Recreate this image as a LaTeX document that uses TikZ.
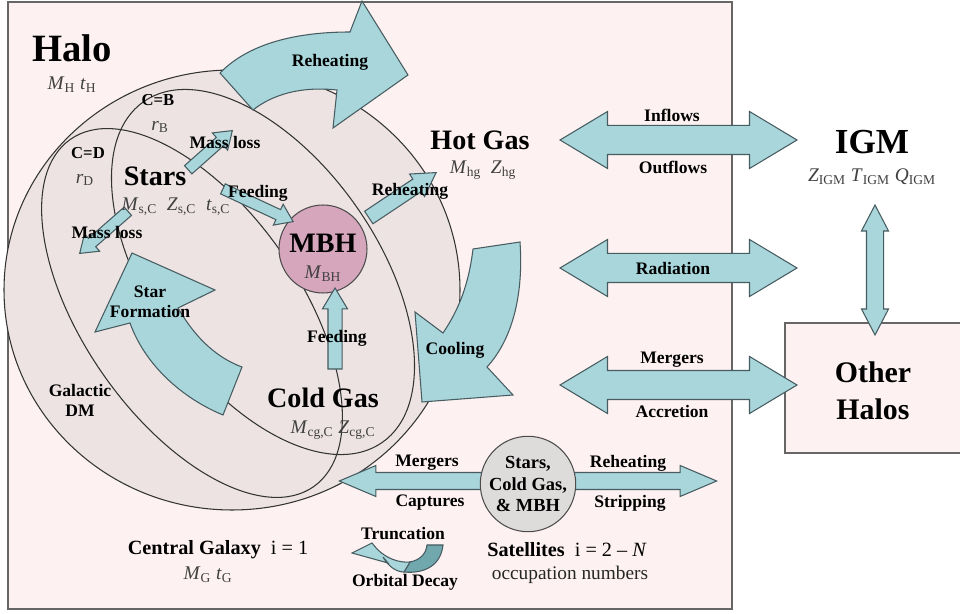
\documentclass[tikz,border=0pt]{standalone}
\usepackage{fontspec}
\setmainfont{Liberation Serif}
\usetikzlibrary{shapes.arrows}

\definecolor{halopink}{RGB}{253,241,241}
\definecolor{galgray}{RGB}{237,227,227}
\definecolor{flowblue}{RGB}{168,214,219}
\definecolor{flowdark}{RGB}{112,168,174}
\definecolor{flowline}{RGB}{70,92,96}
\definecolor{bhpink}{RGB}{214,166,188}
\definecolor{satgray}{RGB}{222,219,219}

\newcommand{\qsub}[2]{\textit{#1}\textsubscript{#2}}
\newcommand{\fsz}[2]{\fontsize{#1}{#2}\selectfont}

\tikzset{
  flow/.style={fill=flowblue, draw=flowline, line width=0.6pt, line join=miter},
  ring/.style={draw=black!80, line width=0.6pt},
  lbl/.style={font=\bfseries\fsz{10}{11.3}, inner sep=0pt},
  comp/.style={font=\bfseries\fsz{16}{18}, inner sep=0pt},
  qty/.style={font=\fsz{11}{12}, text=black!75, inner sep=0pt},
  pipe/.style={double arrow, flow, inner xsep=0pt, inner ysep=0.28cm, minimum height=4.74cm,
    minimum width=1.12cm, double arrow head extend=0.28cm, double arrow tip angle=62},
  dart/.style={single arrow, flow, anchor=tip, inner xsep=0pt, inner ysep=0.1cm,
    minimum width=0.44cm, single arrow head extend=0.12cm, single arrow tip angle=70}
}

\begin{document}
\begin{tikzpicture}[x=0.02cm, y=-0.02cm]
\useasboundingbox (0,0) rectangle (960,614);
\clip (0,0) rectangle (960,614);
\fill[white] (0,0) rectangle (960,614);

% halo box and the other halos
\draw[fill=halopink, draw=black!60, line width=0.6pt] (8,2) rectangle (732,609);
\draw[fill=halopink, draw=black!60, line width=0.6pt] (785,323) rectangle (975,453);

% galaxy shells
\draw[ring, fill=galgray] (232,290) ellipse [x radius=228, y radius=220];
\begin{scope}[rotate around={-55:(192,313)}]
  \draw[ring] (192,313) ellipse [x radius=212, y radius=108];
\end{scope}
\begin{scope}[rotate around={-55:(263,272)}]
  \draw[ring] (263,272) ellipse [x radius=208, y radius=114];
\end{scope}

\node[circle, draw=black!70, fill=bhpink, line width=0.6pt, minimum size=1.76cm,
  inner sep=0pt] (mbh) at (323,249) {};

% curved flows
\draw[flow] (220,73) .. controls (250,42) and (300,32) .. (350,32)
  -- (362,1) -- (408,75) -- (333,128) -- (337,90)
  .. controls (300,86) and (272,95) .. (253,110) -- cycle;
\draw[flow] (242,367) -- (223,415) .. controls (182,398) and (145,365) .. (130,323)
  -- (95,332) -- (132,253) -- (215,290) -- (178,308)
  .. controls (192,332) and (212,356) .. (242,367) -- cycle;
\draw[flow] (473,249) -- (520,242) .. controls (524,300) and (510,342) .. (487,367)
  -- (513,395) -- (422,402) -- (415,312) -- (443,333)
  .. controls (460,308) and (469,282) .. (473,249) -- cycle;
\draw[flow, fill=flowdark] (427,545) -- (443,545) .. controls (441,565) and (425,574) .. (404,572)
  -- (410,562) .. controls (420,560) and (426,554) .. (427,545) -- cycle;
\draw[flow] (352,553) -- (372,543) -- (377,549)
  .. controls (386,558) and (398,563) .. (410,562) -- (404,572)
  .. controls (396,572) and (388,566) .. (383,557) -- (388,563) -- cycle;

% straight flows inside the galaxy
\node[dart, minimum height=1.18cm, rotate=41.6] (loss-up) at (233,130) {};
\node[dart, minimum height=1.28cm, rotate=221.2] (loss-down) at (79,254) {};
\node[dart, minimum height=1.55cm, rotate=-25] (feed-stars) at (294,222) {};
\node[dart, minimum height=1.62cm, inner ysep=0.14cm, minimum width=0.52cm,
  single arrow tip angle=61, rotate=33.7] (reheat-bh) at (437,172) {};
\node[dart, minimum height=1.62cm, inner ysep=0.13cm, minimum width=0.48cm,
  single arrow head extend=0.11cm, single arrow tip angle=62, rotate=90] (feed-cold) at (335,287) {};

% exchanges with the outside
\node[pipe] (inout) at (678.5,140) {};
\node[pipe] (radiation) at (678.5,268) {};
\node[pipe] (accretion) at (678.5,385) {};
\node[pipe, rotate=90, minimum height=2.6cm, inner ysep=0.16cm, minimum width=0.52cm,
  double arrow head extend=0.1cm, double arrow tip angle=55] (igm-link) at (875,270) {};

% satellites
\node[dart, rotate=180, minimum height=2.9cm, inner ysep=0.16cm,
  minimum width=0.6cm, single arrow head extend=0.14cm, single arrow tip angle=46]
  (sat-in) at (338,481) {};
\node[dart, minimum height=2.9cm, inner ysep=0.16cm, minimum width=0.6cm,
  single arrow head extend=0.14cm, single arrow tip angle=46] (sat-out) at (718,481) {};
\node[circle, draw=black!70, fill=satgray, line width=0.6pt, minimum size=1.84cm,
  inner sep=0pt, font=\bfseries\fsz{10.5}{12.2}, align=center] (sat) at (528,484)
  {Stars,\\Cold Gas,\\\& MBH};

% labels
\node[font=\bfseries\fsz{22}{24}, inner sep=0pt] (halo) at (72,48) {Halo};
\node[qty] (halo-q) at (72,85) {\qsub{M}{H} \qsub{t}{H}};
\node[lbl, font=\bfseries\fsz{9.5}{11}] (cb) at (158,100) {C=B};
\node[qty] (rb) at (160,127) {\qsub{r}{B}};
\node[lbl, font=\bfseries\fsz{9.5}{11}] (cd) at (88,153) {C=D};
\node[qty] (rd) at (85,180) {\qsub{r}{D}};
\node[comp] (stars) at (155,176) {Stars};
\node[qty] (stars-q) at (176,207) {\qsub{M}{s,C}\ \ \qsub{Z}{s,C}\ \ \qsub{t}{s,C}};
\node[comp] (mbh-lbl) at (323,243) {MBH};
\node[qty] (mbh-q) at (323,274) {\qsub{M}{BH}};
\node[comp] (hot) at (480,140) {Hot Gas};
\node[qty] (hot-q) at (483,170) {\qsub{M}{hg}\ \ \qsub{Z}{hg}};
\node[font=\bfseries\fsz{20}{22}, inner sep=0pt] (igm) at (872,142) {IGM};
\node[qty] (igm-q) at (872,177) {\qsub{Z}{IGM} \qsub{T}{IGM} \qsub{Q}{IGM}};
\node[font=\bfseries\fsz{17}{21}, inner sep=0pt, align=center] (others) at (873,391) {Other\\Halos};
\node[comp] (cold) at (323,398) {Cold Gas};
\node[qty] (cold-q) at (333,430) {\qsub{M}{cg,C}\ \qsub{Z}{cg,C}};
\node[lbl, align=center] (dm) at (80,400) {Galactic\\DM};
\node[lbl, align=center] (sf-lbl) at (150,302) {Star\\Formation};
\node[lbl] (reheat-big-lbl) at (330,62) {Reheating};
\node[lbl] (loss-up-lbl) at (225,142) {Mass loss};
\node[lbl] (loss-down-lbl) at (107,232) {Mass loss};
\node[lbl] (feed-stars-lbl) at (258,193) {Feeding};
\node[lbl] (reheat-bh-lbl) at (410,191) {Reheating};
\node[lbl] (feed-cold-lbl) at (337,338) {Feeding};
\node[lbl] (cooling-lbl) at (455,350) {Cooling};
\node[lbl] (inflows) at (672,115) {Inflows};
\node[lbl] (outflows) at (673,167) {Outflows};
\node[lbl] (radiation-lbl) at (673,268) {Radiation};
\node[lbl] (mergers) at (672,360) {Mergers};
\node[lbl] (accretion-lbl) at (672,411) {Accretion};
\node[lbl] (sat-mergers) at (427,463) {Mergers};
\node[lbl] (captures) at (430,503) {Captures};
\node[lbl] (sat-reheat) at (628,463) {Reheating};
\node[lbl] (stripping) at (630,503) {Stripping};
\node[lbl] (truncation) at (403,534) {Truncation};
\node[lbl] (decay) at (405,582) {Orbital Decay};
\node[font=\bfseries\fsz{11.5}{13}, inner sep=0pt] (central) at (218,550)
  {Central Galaxy\ \ \normalfont i = 1};
\node[qty] (central-q) at (208,575) {\qsub{M}{G}\ \qsub{t}{G}};
\node[font=\bfseries\fsz{11.5}{13}, inner sep=0pt] (sats) at (567,550)
  {Satellites\ \ \normalfont i = 2 -- \textit{N}};
\node[qty, text=black!85] (occupation) at (570,575) {occupation numbers};
\end{tikzpicture}
\end{document}
